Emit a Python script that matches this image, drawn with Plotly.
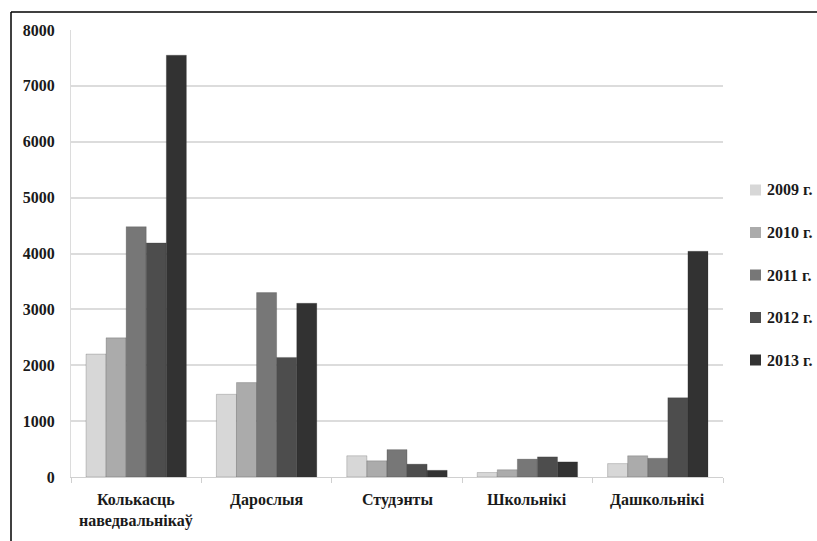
import plotly.graph_objects as go

# Наведвальнікі па катэгорыях, 2009–2013 гг.
categories = ["Колькасць<br>наведвальнікаў", "Дарослыя", "Студэнты", "Школьнікі", "Дашкольнікі"]
years = ["2009 г.", "2010 г.", "2011 г.", "2012 г.", "2013 г."]

v2009 = [2200, 1480, 380, 80, 240]
v2010 = [2490, 1690, 290, 130, 380]
v2011 = [4480, 3300, 490, 320, 335]
v2012 = [4190, 2140, 230, 360, 1420]
v2013 = [7550, 3110, 120, 270, 4040]

series = [v2009, v2010, v2011, v2012, v2013]
colors = ["#d7d7d7", "#ababab", "#777777", "#4d4d4d", "#323232"]

y_ticks = [0, 1000, 2000, 3000, 4000, 5000, 6000, 7000, 8000]

font_family = "Liberation Serif, Times New Roman, serif"
text_color = "#1a1a1a"

fig = go.Figure()
for name, vals, col in zip(years, series, colors):
    fig.add_trace(go.Bar(
        x=categories, y=vals, name=name, showlegend=False,
        marker=dict(color=col, line=dict(color="rgba(40,40,40,0.35)", width=0.6)),
    ))

W, H = 817, 541
L, R, T, B = 71, 94, 30, 64
pw, ph = W - L - R, H - T - B

def px_x(px):
    return (px - L) / pw

def px_y(py):
    return (H - B - py) / ph

fig.update_layout(
    width=W, height=H,
    margin=dict(l=L, r=R, t=T, b=B, autoexpand=False),
    paper_bgcolor="white", plot_bgcolor="white",
    barmode="group", bargap=0.23, bargroupgap=0,
    font=dict(family=font_family, size=15, color=text_color),
    showlegend=False,
    xaxis=dict(
        showgrid=False, showline=True, linecolor="#d0d0d0", linewidth=1,
        ticks="outside", tickcolor="#d0d0d0", ticklen=5,
        tickmode="array", tickvals=[-0.5, 0.5, 1.5, 2.5, 3.5, 4.5], ticktext=[""] * 6,
        range=[-0.5, 4.5],
    ),
    yaxis=dict(
        range=[0, 8000], tickvals=y_ticks,
        showgrid=True, gridcolor="#dcdcdc", gridwidth=1.5,
        showline=True, linecolor="#dcdcdc", zeroline=False,
        tickfont=dict(family=font_family, size=16, color=text_color, weight="bold"),
        ticklabelstandoff=12,
    ),
)

# Category labels beneath each group
for i, cat in enumerate(categories):
    fig.add_annotation(
        x=i, y=0, xref="x", yref="y", text=cat, showarrow=False,
        yanchor="top", yshift=-12,
        font=dict(family=font_family, size=16, color=text_color, weight="bold"),
        align="center",
    )

# Legend: colour swatch and year label for each series
legend_y = [190, 232.5, 275, 317.5, 360]
for name, col, py in zip(years, colors, legend_y):
    fig.add_shape(type="rect", xref="paper", yref="paper",
                  x0=px_x(750), x1=px_x(761), y0=px_y(py - 5.5), y1=px_y(py + 5.5),
                  fillcolor=col, line=dict(width=0))
    fig.add_annotation(
        x=px_x(765), y=px_y(py), xref="paper", yref="paper", text=name,
        showarrow=False, xanchor="left", yanchor="middle",
        font=dict(family=font_family, size=16, color=text_color, weight="bold"),
    )

# Outer frame (top and left edges)
fig.add_shape(type="line", xref="paper", yref="paper",
              x0=px_x(11), x1=px_x(W + 5), y0=px_y(12), y1=px_y(12),
              line=dict(color="black", width=1.5))
fig.add_shape(type="line", xref="paper", yref="paper",
              x0=px_x(11), x1=px_x(11), y0=px_y(12), y1=px_y(H + 5),
              line=dict(color="black", width=1.5))

fig.write_html("out.html")
